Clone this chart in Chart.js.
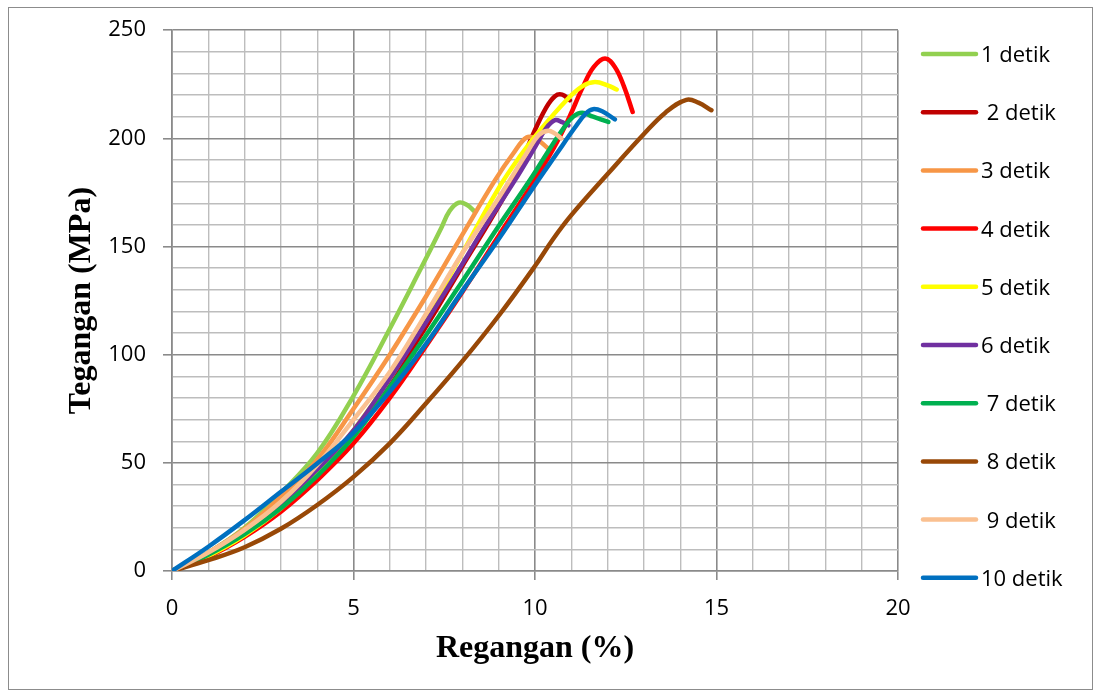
<!DOCTYPE html>
<html>
<head>
<meta charset="utf-8">
<script src="https://cdn.jsdelivr.net/npm/chart.js@4/dist/chart.umd.min.js"></script>
<style>
  html, body { margin: 0; padding: 0; background: #fff; }
  #wrap { width: 1094px; height: 691px; }
</style>
</head>
<body>
<div id="wrap"><canvas id="myChart" width="1094" height="691"></canvas></div>
<script>
// series labels and colours (Excel palette)
const labels = ["1 detik", " 2 detik", "3 detik", "4 detik", "5 detik",
                "6 detik", " 7 detik", " 8 detik", " 9 detik", "10 detik"];
const colors = ["#92d050", "#c00000", "#f79646", "#ff0000", "#ffff00",
                "#7030a0", "#00b050", "#984807", "#fac090", "#0070c0"];

// [regangan %, tegangan MPa]
const detik1 = [[0,0],[1,8.5],[2,20],[3,36],[4,54.5],[5,81],[6,112],[6.83,139],[7.39,157.6],[7.65,166.5],[7.9,170.3],[8.12,169.3],[8.35,166]];
const detik2 = [[0,0],[1,7.5],[2,17.5],[3,30],[4,46],[5,64],[6,87],[7,113],[8,141],[8.8,163],[9.5,184],[9.95,202],[10.3,214],[10.55,219.5],[10.75,220.2],[10.96,217.6]];
const detik3 = [[0,0],[1,8.5],[2,19.5],[3,34.5],[4,51.5],[5,75],[6,100],[7,127],[8,155.5],[8.9,180.7],[9.4,193],[9.78,200.5],[10.05,199.5],[10.36,195.4]];
const detik4 = [[0,0],[1,6.6],[2,15.8],[3,27.4],[4,42],[5,59],[6,80],[7,104],[8,129],[9,155],[10,181],[10.5,195],[10.91,208.5],[11.32,223.8],[11.62,233],[11.93,236.9],[12.2,233],[12.45,224],[12.69,212.2]];
const detik5 = [[0,0],[1,7],[2,16.5],[3,29],[4,45],[5,65],[6,89],[7,117],[8,147],[9,177],[9.6,192],[10.13,203.5],[10.86,217.5],[11.3,224],[11.65,226],[12,224.5],[12.25,222.6]];
const detik6 = [[0,0],[1,8],[2,18],[3,31],[4,47],[5,65],[6,89],[7,115],[8,142],[8.56,157.6],[9.45,180.7],[10,196],[10.3,204.5],[10.55,208.4],[10.75,207.5],[10.92,206]];
const detik7 = [[0,0],[1,7.5],[2,17],[3,29],[4,44],[5,62],[6,85],[7,109],[8,134],[9,159.5],[9.86,180.7],[10.4,195],[10.8,205],[11.05,210],[11.3,211.8],[11.6,210],[12.02,207.6]];
const detik8 = [[0,0],[1,5],[2,11],[3,19.5],[4,30.5],[5,43.5],[6,59],[7,77.5],[8,97],[9,118],[10,141],[10.5,153.5],[11,164.5],[12,183.5],[13,202],[13.6,212],[14.17,217.8],[14.5,216.5],[14.86,213]];
const detik9 = [[0,0],[1,8.5],[2,19],[3,32],[4,49],[5,70],[6,92],[7,119],[8,147],[9,172.5],[9.8,194],[10.1,201.5],[10.36,203.5],[10.55,202.2],[10.72,200]];
const detik10 = [[0,0],[1,11.2],[2,23.5],[3,36.6],[4,49.7],[5,64],[6,83],[7,105],[8,129.5],[9,153.5],[10,178.5],[10.6,193],[11.1,205],[11.4,211.5],[11.6,213.5],[11.85,212.5],[12.2,208.8]];

const xTickLabels = [0, 5, 10, 15, 20];
const yTickLabels = [0, 50, 100, 150, 200, 250];

const series = [detik1, detik2, detik3, detik4, detik5, detik6, detik7, detik8, detik9, detik10];

const majorGrid = "#8a8a8a";
const minorGrid = "#bdbdbd";
const tickFont = { family: "'Open Sans', 'Noto Sans', sans-serif", size: 22 };
const titleFont = { family: "'Liberation Serif', 'Times New Roman', serif", size: 32, weight: "bold" };

const datasets = series.map((s, i) => ({
    label: labels[i],
    data: s.map((p) => ({ x: p[0], y: p[1] })),
    borderColor: colors[i],
    backgroundColor: colors[i],
    borderWidth: 4.5,
    borderCapStyle: "round",
    borderJoinStyle: "round",
    pointRadius: 0,
    tension: 0.4,
    fill: false,
    order: -i, // later series on top, like Excel
}));

// white page with the thin grey chart frame
const framePlugin = {
    id: "frame",
    beforeDraw(chart) {
        const ctx = chart.ctx;
        ctx.save();
        ctx.fillStyle = "#fff";
        ctx.fillRect(0, 0, chart.width, chart.height);
        ctx.strokeStyle = "#8c8c8c";
        ctx.lineWidth = 1;
        ctx.strokeRect(8.5, 7.5, 1084, 682);
        ctx.restore();
    },
};

// legend on the right, one entry every ~58px
const sideLegend = {
    id: "sideLegend",
    afterDraw(chart) {
        const ctx = chart.ctx;
        ctx.save();
        chart.data.datasets.forEach((ds, i) => {
            const y = 54 + i * 58.2;
            ctx.strokeStyle = ds.borderColor;
            ctx.lineWidth = 4.5;
            ctx.lineCap = "round";
            ctx.beginPath();
            ctx.moveTo(923, y);
            ctx.lineTo(976, y);
            ctx.stroke();
            ctx.fillStyle = "#000";
            ctx.font = "22px 'Open Sans', 'Noto Sans', sans-serif";
            ctx.textBaseline = "alphabetic";
            ctx.textAlign = "left";
            ctx.fillText(ds.label, 981, y + 8);
        });
        ctx.restore();
    },
};

const isMajor = (v, step) => Math.abs(v / step - Math.round(v / step)) < 1e-6;

const ctx = document.getElementById("myChart").getContext("2d");
const myChart = new Chart(ctx, {
    type: "line",
    data: { datasets: datasets },
    plugins: [framePlugin, sideLegend],
    options: {
        responsive: false,
        animation: false,
        devicePixelRatio: 1,
        layout: { padding: { left: 0, top: 30, right: 196, bottom: 0 } },
        plugins: {
            legend: { display: false },
            tooltip: { enabled: false },
        },
        scales: {
            x: {
                type: "linear",
                min: 0,
                max: 20,
                afterFit: (s) => { s.height = 120; },
                ticks: {
                    stepSize: 1,
                    autoSkip: false,
                    maxRotation: 0,
                    padding: 16,
                    color: "#000",
                    font: tickFont,
                    callback: (v) => (xTickLabels.includes(v) ? String(v) : ""),
                },
                grid: {
                    color: (c) => (isMajor(c.tick.value, 5) ? majorGrid : minorGrid),
                    lineWidth: (c) => (isMajor(c.tick.value, 5) ? 1.6 : 1.4),
                    tickColor: (c) => (isMajor(c.tick.value, 5) ? majorGrid : "rgba(0,0,0,0)"),
                    tickLength: 9,
                },
                border: { color: majorGrid, width: 1.6 },
                title: {
                    display: true,
                    text: "Regangan (%)",
                    color: "#000",
                    font: titleFont,
                    padding: { top: 0, bottom: 23 },
                },
            },
            y: {
                type: "linear",
                min: 0,
                max: 250,
                afterFit: (s) => { s.width = 172; },
                ticks: {
                    stepSize: 10,
                    autoSkip: false,
                    padding: 17,
                    color: "#000",
                    font: tickFont,
                    callback: (v) => (yTickLabels.includes(v) ? String(v) : ""),
                },
                grid: {
                    color: (c) => (isMajor(c.tick.value, 50) ? majorGrid : minorGrid),
                    lineWidth: (c) => (isMajor(c.tick.value, 50) ? 1.6 : 1.4),
                    tickColor: (c) => (isMajor(c.tick.value, 50) ? majorGrid : "rgba(0,0,0,0)"),
                    tickLength: 9,
                },
                border: { color: majorGrid, width: 1.6 },
                title: {
                    display: true,
                    text: "Tegangan (MPa)",
                    color: "#000",
                    font: titleFont,
                    padding: { top: 63, bottom: 0 },
                },
            },
        },
    },
});
</script>
</body>
</html>
